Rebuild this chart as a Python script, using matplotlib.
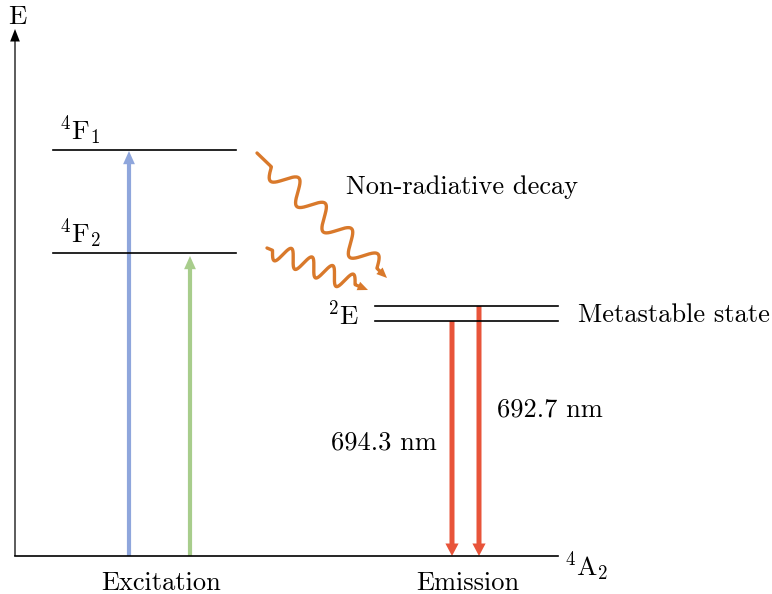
import numpy as np
import matplotlib.pyplot as plt
from matplotlib.patches import FancyArrowPatch

plt.rcParams["mathtext.fontset"] = "cm"
plt.rcParams["font.family"] = "cmr10"
plt.rcParams["axes.unicode_minus"] = False

# energy levels (pixel-like units, y grows downward)
level_names = [r"$^4\mathrm{F}_1$", r"$^4\mathrm{F}_2$"]
level_y = [150, 253]
level_x = [53, 236]
e_level_y = [306, 321]
e_level_x = [375, 558]
ground_y = 556
axis_x = 15
axis_top = 29
axis_right = 558

# transitions
excite_x = [129, 190]
excite_top = [151, 256]
excite_colors = ["#8fa6dc", "#a8cd8c"]
emit_x = [452, 479]
emit_top = [321, 306]
emit_color = "#e8543a"
emit_labels = ["694.3 nm", "692.7 nm"]
emit_label_pos = [(384, 443), (550, 410)]

# non-radiative decay wiggles: start, end, number of waves, amplitude, straight lead-in
wave_start = [(257, 153), (267, 248)]
wave_end = [(387, 278), (368, 290)]
wave_count = [4.0, 4.0]
wave_amp = [11, 9]
wave_lead = [20, 6]
wave_color = "#d9792b"

fig = plt.figure(figsize=(7.72, 5.94), dpi=100)
ax = fig.add_axes([0, 0, 1, 1])
ax.set_xlim(0, 772)
ax.set_ylim(594, 0)
ax.axis("off")

fs = 19
mfs = 19.5


def arrow(p0, p1, color, tail, hw, hl):
    a = FancyArrowPatch(p0, p1, mutation_scale=1, lw=0, color=color,
                        shrinkA=0, shrinkB=0,
                        arrowstyle=f"simple,tail_width={tail},head_width={hw},head_length={hl}")
    ax.add_patch(a)


# axes
ax.plot([axis_x, axis_right], [ground_y, ground_y], color="black", lw=1.2)
arrow((axis_x, ground_y), (axis_x, axis_top), "black", 0.9, 7, 9)
ax.text(axis_x - 7, 17, r"$\mathrm{E}$", fontsize=mfs, va="center", ha="left")
ax.text(564, 567, r"$^4\mathrm{A}_2$", fontsize=mfs, va="center", ha="left")

# levels
for name, y in zip(level_names, level_y):
    ax.plot(level_x, [y, y], color="black", lw=1.2)
    ax.text(level_x[0] + 6, y - 19, name, fontsize=mfs, va="center", ha="left")
for y in e_level_y:
    ax.plot(e_level_x, [y, y], color="black", lw=1.2)
ax.text(359, 315, r"$^2\mathrm{E}$", fontsize=mfs, va="center", ha="right")
ax.text(578, 315, "Metastable state", fontsize=fs, va="center", ha="left")

# excitation arrows
for x, top, c in zip(excite_x, excite_top, excite_colors):
    arrow((x, ground_y), (x, top), c, 3.0, 8.5, 9.5)

# emission arrows
for x, top in zip(emit_x, emit_top):
    arrow((x, top), (x, ground_y), emit_color, 3.6, 9.5, 9)
for lab, (x, y) in zip(emit_labels, emit_label_pos):
    ax.text(x, y, lab, fontsize=fs, va="center", ha="center")

# wavy arrows
for (x0, y0), (x1, y1), n, a, lead in zip(wave_start, wave_end, wave_count,
                                          wave_amp, wave_lead):
    d = np.array([x1 - x0, y1 - y0], float)
    L = np.hypot(*d)
    u = d / L
    p = np.array([-u[1], u[0]])
    s = np.linspace(0, L - 8, 400)
    span = L - 8 - lead - 6
    w = a * np.sin(2 * np.pi * n * np.clip(s - lead, 0, span) / span)
    xs = x0 + u[0] * s + p[0] * w
    ys = y0 + u[1] * s + p[1] * w
    ax.plot(xs, ys, color=wave_color, lw=2.4, solid_capstyle="round")
    arrow((xs[-1], ys[-1]), (x1, y1), wave_color, 1.8, 6.5, 7.5)
ax.text(346, 187, "Non-radiative decay", fontsize=fs, va="center", ha="left")

# bottom labels
ax.text(161, 583, "Excitation", fontsize=fs, va="center", ha="center")
ax.text(468, 583, "Emission", fontsize=fs, va="center", ha="center")

fig.savefig("out.png", dpi=100)
